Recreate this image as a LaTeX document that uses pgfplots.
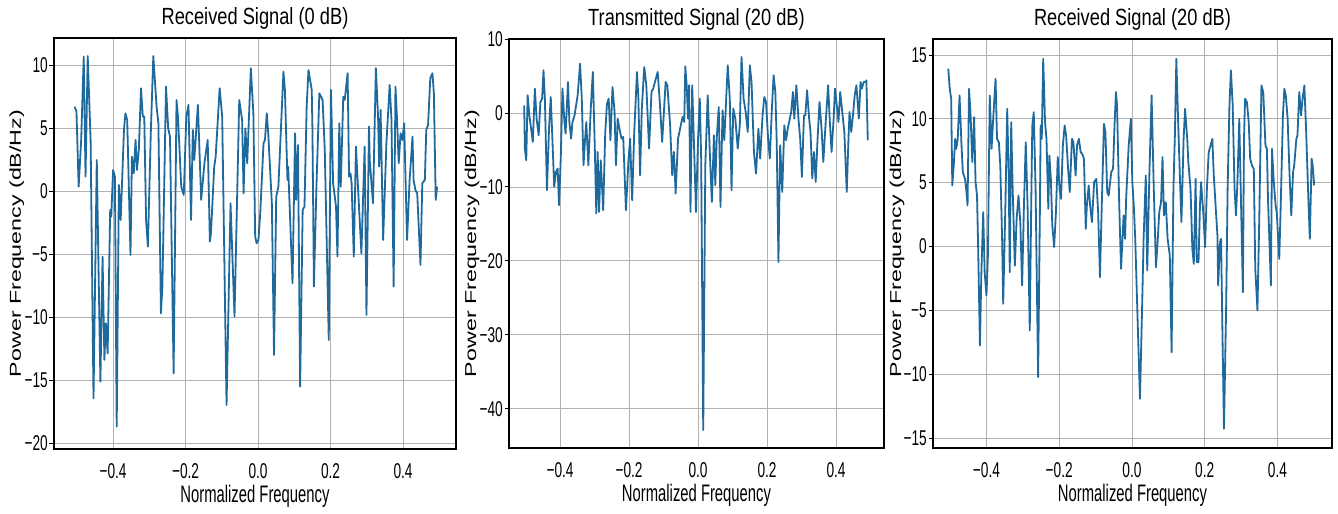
\documentclass[border=0pt]{standalone}
\usepackage{fontspec}
\usepackage{graphicx}
\usepackage{pgfplots}
\pgfplotsset{compat=1.18}
\setmainfont{Liberation Sans}
\newfontfamily\condA{Liberation Sans}[FakeStretch=0.64]
\newfontfamily\condL{Liberation Sans}[FakeStretch=0.62]
\newfontfamily\condT{Liberation Sans}[FakeStretch=0.78]
\definecolor{sig}{RGB}{31,106,156}
\definecolor{gridc}{RGB}{178,178,178}
\newcommand{\tickfont}{\condA\fontsize{21.5}{25}\selectfont}
\newcommand{\labfont}{\condL\fontsize{24}{28}\selectfont}
\newcommand{\titfont}{\condT\fontsize{23.5}{28}\selectfont}
\newcommand{\ylabfont}{\fontsize{23.3}{28}\selectfont}
\pgfplotsset{panel/.style={
  scale only axis, anchor=south west,
  axis line style={black, line width=1.1bp},
  grid=major, major grid style={color=gridc, line width=0.8bp},
  major tick length=4.5bp, tick align=outside,
  ytick pos=left, xtick pos=bottom,
  xtick style={draw=none}, ytick style={black, line width=0.9bp},
  xtick={-0.4,-0.2,0,0.2,0.4},
  xticklabels={−0.4,−0.2,0.0,0.2,0.4},
  xticklabel style={font=\tickfont, inner sep=0pt, anchor=north, yshift=-9.5bp},
  yticklabel style={font=\tickfont, inner sep=0pt, anchor=east, xshift=-1.5bp},
  xlabel={Normalized Frequency},
  xlabel style={font=\labfont, at={(axis description cs:0.5,0)}, anchor=north, yshift=-36bp, inner sep=0pt},
  ylabel={\scalebox{1}[0.68]{Power Frequency (dB/Hz)}},
  ylabel style={font=\ylabfont, anchor=base, inner sep=0pt},
  title style={font=\titfont, at={(axis description cs:0.5,1)}, anchor=base, yshift=7.5bp, inner sep=0pt},
}}
\begin{document}
\begin{tikzpicture}
\path[use as bounding box] (0,0) rectangle (1338bp,514bp);
% Panel 1
\begin{axis}[panel, at={(54bp,65bp)}, width=402bp, height=411bp,
  xmin=-0.563, xmax=0.546, ymin=-20.48, ymax=12.14,
  ytick={-20,-15,-10,-5,0,5,10}, yticklabels={−20,−15,−10,−5,0,5,10},
  ylabel style={at={(axis description cs:-0.0821,0.5)}},
  title={Received Signal (0 dB)}]
\addplot[color=sig, line width=1.8bp, line join=round, no markers] coordinates {(-0.506,6.69)(-0.501,6.30)(-0.495,0.34)(-0.488,4.05)(-0.481,10.66)(-0.476,1.14)(-0.470,10.71)(-0.462,4.05)(-0.454,-16.46)(-0.445,2.46)(-0.435,-15.13)(-0.429,-5.21)(-0.424,-13.41)(-0.420,-10.50)(-0.415,-12.88)(-0.408,-1.51)(-0.405,-2.04)(-0.400,1.67)(-0.395,1.14)(-0.390,-18.70)(-0.384,0.48)(-0.379,-2.30)(-0.370,4.84)(-0.366,6.16)(-0.361,5.63)(-0.352,-5.08)(-0.348,2.72)(-0.343,1.40)(-0.338,4.05)(-0.334,1.67)(-0.329,3.25)(-0.323,8.15)(-0.318,5.90)(-0.314,5.90)(-0.309,-2.30)(-0.304,-4.42)(-0.296,4.58)(-0.289,10.71)(-0.280,6.69)(-0.275,5.37)(-0.268,-9.71)(-0.264,-7.59)(-0.254,8.28)(-0.248,4.97)(-0.243,4.31)(-0.233,-14.47)(-0.225,7.22)(-0.221,5.90)(-0.212,0.34)(-0.205,-0.32)(-0.198,5.90)(-0.192,6.83)(-0.185,-2.30)(-0.180,4.84)(-0.176,2.46)(-0.166,6.83)(-0.157,-0.71)(-0.148,2.20)(-0.139,4.05)(-0.133,-4.02)(-0.130,-3.36)(-0.121,1.93)(-0.117,2.72)(-0.106,8.15)(-0.099,5.90)(-0.087,-16.98)(-0.076,-0.98)(-0.065,-9.97)(-0.052,7.22)(-0.044,5.63)(-0.040,-0.19)(-0.035,4.97)(-0.030,2.20)(-0.020,9.74)(-0.013,6.16)(-0.008,-3.62)(-0.004,-4.15)(0.001,-3.89)(0.006,-1.77)(0.015,3.78)(0.019,4.05)(0.024,6.16)(0.028,4.58)(0.038,-0.98)(0.044,-13.02)(0.050,-0.45)(0.056,0.34)(0.070,9.47)(0.074,8.02)(0.081,0.87)(0.083,1.93)(0.095,-7.33)(0.102,4.58)(0.105,-0.71)(0.110,3.65)(0.116,-15.53)(0.123,-1.51)(0.128,-1.24)(0.134,6.69)(0.139,9.60)(0.148,8.02)(0.150,4.84)(0.154,-7.59)(0.161,0.34)(0.169,7.75)(0.178,7.22)(0.184,3.25)(0.195,-11.83)(0.201,8.02)(0.207,0.61)(0.215,-1.24)(0.219,-5.21)(0.224,5.37)(0.228,0.34)(0.235,7.49)(0.239,7.22)(0.247,9.34)(0.251,1.14)(0.255,1.40)(0.258,0.61)(0.264,-5.21)(0.270,3.52)(0.276,0.08)(0.285,-4.95)(0.294,3.52)(0.299,-9.84)(0.306,5.11)(0.308,2.46)(0.317,-0.98)(0.325,9.74)(0.331,5.90)(0.334,1.93)(0.338,6.43)(0.345,-3.89)(0.354,3.78)(0.363,8.41)(0.368,5.63)(0.374,-7.59)(0.379,8.28)(0.383,5.90)(0.388,2.20)(0.393,4.58)(0.398,4.05)(0.403,5.37)(0.411,-3.89)(0.418,0.87)(0.426,4.31)(0.429,0.87)(0.434,0.08)(0.439,-0.19)(0.448,-5.87)(0.453,0.61)(0.460,0.87)(0.464,4.84)(0.469,5.24)(0.475,8.94)(0.481,9.34)(0.485,7.75)(0.490,-0.71)(0.494,0.34)};
\end{axis}
% Panel 2
\begin{axis}[panel, at={(509bp,66bp)}, width=375bp, height=409bp,
  xmin=-0.548, xmax=0.539, ymin=-45.3, ymax=10,
  ytick={-40,-30,-20,-10,0,10}, yticklabels={−40,−30,−20,−10,0,10},
  ylabel style={at={(axis description cs:-0.088,0.5)}},
  title={Transmitted Signal (20 dB)}]
\addplot[color=sig, line width=1.8bp, line join=round, no markers] coordinates {(-0.504,1.04)(-0.502,-4.82)(-0.498,-6.40)(-0.494,2.39)(-0.489,-0.32)(-0.484,-2.12)(-0.479,-3.92)(-0.473,3.29)(-0.468,-0.77)(-0.462,-3.02)(-0.457,1.49)(-0.452,1.94)(-0.448,5.77)(-0.444,1.94)(-0.438,-10.45)(-0.432,-2.12)(-0.427,2.16)(-0.423,-2.57)(-0.417,-10.00)(-0.412,-7.97)(-0.407,-7.52)(-0.403,-12.48)(-0.398,-6.17)(-0.393,3.29)(-0.388,-0.77)(-0.384,-2.79)(-0.377,4.19)(-0.373,-1.22)(-0.368,-3.47)(-0.364,-1.22)(-0.358,-0.32)(-0.349,2.39)(-0.342,6.67)(-0.337,1.94)(-0.332,-7.07)(-0.328,-3.92)(-0.324,-1.22)(-0.318,-7.07)(-0.311,0.59)(-0.305,5.54)(-0.299,-5.27)(-0.295,-13.60)(-0.291,-5.27)(-0.287,-13.38)(-0.282,-6.40)(-0.275,-13.15)(-0.269,-2.57)(-0.264,1.26)(-0.259,1.94)(-0.254,-3.69)(-0.248,3.51)(-0.242,0.14)(-0.238,-7.07)(-0.233,-0.77)(-0.228,-2.12)(-0.222,-3.47)(-0.217,-3.24)(-0.209,-13.15)(-0.202,-6.62)(-0.197,-3.47)(-0.191,-11.80)(-0.185,-2.57)(-0.177,5.54)(-0.173,1.94)(-0.168,-8.42)(-0.163,0.59)(-0.156,6.22)(-0.150,3.74)(-0.142,-4.82)(-0.135,2.84)(-0.130,3.29)(-0.125,4.19)(-0.117,5.54)(-0.111,1.49)(-0.104,-3.92)(-0.099,0.14)(-0.094,4.19)(-0.089,3.74)(-0.081,-1.67)(-0.075,-8.42)(-0.070,-5.27)(-0.065,-10.90)(-0.058,-3.47)(-0.050,-1.67)(-0.045,-0.54)(-0.040,-1.22)(-0.037,6.31)(-0.033,3.74)(-0.029,-0.77)(-0.026,3.74)(-0.022,-13.38)(-0.017,3.74)(-0.012,-3.92)(-0.006,-13.38)(0.000,-3.47)(0.005,1.94)(0.009,-6.17)(0.015,-42.88)(0.021,-7.07)(0.028,2.39)(0.034,-5.27)(0.040,-12.03)(0.046,-3.02)(0.050,-9.77)(0.054,-3.47)(0.060,0.81)(0.065,-12.70)(0.071,0.36)(0.076,-3.69)(0.086,6.44)(0.092,1.94)(0.097,-10.45)(0.102,0.59)(0.108,-0.77)(0.115,-4.82)(0.121,-1.67)(0.126,7.57)(0.132,1.94)(0.138,0.14)(0.144,-2.57)(0.150,6.44)(0.155,4.19)(0.162,-5.27)(0.168,-8.20)(0.175,-2.12)(0.180,-6.17)(0.187,-0.32)(0.192,2.16)(0.197,1.49)(0.203,-3.47)(0.208,-6.17)(0.214,0.59)(0.219,5.09)(0.224,2.84)(0.228,-3.92)(0.233,-20.14)(0.238,-4.37)(0.244,-10.68)(0.250,-1.67)(0.255,-3.69)(0.260,-2.12)(0.265,-0.99)(0.270,0.14)(0.275,2.84)(0.279,-0.77)(0.285,3.74)(0.291,-0.77)(0.296,-3.47)(0.301,-8.65)(0.307,-0.32)(0.311,-0.32)(0.316,3.06)(0.322,-0.77)(0.326,-2.57)(0.331,-8.87)(0.336,-5.27)(0.341,-9.32)(0.346,-3.92)(0.352,1.49)(0.358,-2.12)(0.363,-6.62)(0.370,-1.22)(0.377,3.74)(0.382,-1.22)(0.387,-5.27)(0.393,-0.77)(0.397,3.29)(0.402,1.04)(0.407,-1.22)(0.412,2.84)(0.419,-0.32)(0.424,-2.57)(0.431,-10.68)(0.436,-3.47)(0.439,0.14)(0.444,-2.57)(0.449,-0.32)(0.454,2.39)(0.459,3.74)(0.466,-0.77)(0.471,4.19)(0.475,3.29)(0.480,4.19)(0.485,4.19)(0.488,4.41)(0.492,-3.69)};
\end{axis}
% Panel 3
\begin{axis}[panel, at={(933bp,66bp)}, width=399bp, height=409bp,
  xmin=-0.547, xmax=0.55, ymin=-15.78, ymax=16.25,
  ytick={-15,-10,-5,0,5,10,15}, yticklabels={−15,−10,−5,0,5,10,15},
  ylabel style={at={(axis description cs:-0.080,0.5)}},
  title={Received Signal (20 dB)}]
\addplot[color=sig, line width=1.8bp, line join=round, no markers] coordinates {(-0.505,13.92)(-0.501,12.35)(-0.497,11.57)(-0.494,4.78)(-0.490,6.34)(-0.486,8.43)(-0.483,7.65)(-0.479,8.43)(-0.474,11.83)(-0.469,8.17)(-0.465,5.82)(-0.459,5.30)(-0.455,4.26)(-0.452,3.21)(-0.448,12.35)(-0.444,10.52)(-0.439,6.61)(-0.434,10.13)(-0.430,5.04)(-0.426,3.99)(-0.423,0.08)(-0.418,-7.75)(-0.414,-2.01)(-0.409,2.69)(-0.405,-2.01)(-0.400,-3.84)(-0.396,-0.70)(-0.391,11.83)(-0.386,7.65)(-0.381,10.26)(-0.375,13.13)(-0.371,8.43)(-0.366,8.17)(-0.362,6.34)(-0.357,0.60)(-0.354,-4.49)(-0.348,3.21)(-0.343,10.78)(-0.339,5.82)(-0.336,-2.01)(-0.332,9.74)(-0.328,4.52)(-0.322,-1.49)(-0.317,2.17)(-0.312,3.99)(-0.307,1.91)(-0.302,-3.05)(-0.297,3.21)(-0.292,8.17)(-0.287,3.21)(-0.281,-6.58)(-0.277,3.21)(-0.274,9.48)(-0.270,10.52)(-0.265,4.52)(-0.258,-10.23)(-0.253,3.21)(-0.251,9.48)(-0.248,8.43)(-0.244,14.70)(-0.239,9.74)(-0.235,8.43)(-0.230,2.95)(-0.227,7.13)(-0.223,5.30)(-0.219,1.64)(-0.214,-0.05)(-0.209,2.69)(-0.204,7.00)(-0.199,4.52)(-0.195,3.73)(-0.190,7.91)(-0.185,9.48)(-0.181,8.69)(-0.175,5.82)(-0.171,4.26)(-0.165,8.43)(-0.161,8.17)(-0.155,5.56)(-0.151,7.91)(-0.146,8.43)(-0.141,7.39)(-0.137,7.26)(-0.132,6.87)(-0.127,1.38)(-0.124,3.21)(-0.119,4.78)(-0.115,3.21)(-0.110,1.91)(-0.104,5.04)(-0.098,5.30)(-0.093,2.69)(-0.088,-2.40)(-0.083,3.21)(-0.077,9.61)(-0.073,8.96)(-0.068,4.26)(-0.064,3.99)(-0.057,5.82)(-0.052,6.08)(-0.048,9.48)(-0.044,12.09)(-0.041,11.04)(-0.035,3.21)(-0.030,-1.75)(-0.023,2.43)(-0.019,0.60)(-0.016,3.73)(-0.009,7.91)(-0.003,10.00)(0.001,5.04)(0.005,3.21)(0.009,0.60)(0.016,-6.19)(0.022,-11.93)(0.028,-4.62)(0.032,0.60)(0.038,5.56)(0.042,-1.88)(0.048,5.82)(0.054,11.83)(0.060,4.52)(0.066,-1.62)(0.071,0.60)(0.075,2.69)(0.080,3.47)(0.084,7.00)(0.088,2.43)(0.093,3.47)(0.098,0.60)(0.104,-0.70)(0.109,-8.28)(0.114,4.52)(0.118,8.69)(0.122,14.70)(0.127,9.74)(0.132,5.30)(0.136,1.91)(0.142,8.43)(0.146,10.78)(0.152,8.43)(0.155,6.61)(0.161,4.52)(0.166,-0.18)(0.170,-1.36)(0.175,5.30)(0.178,-1.23)(0.183,-1.23)(0.187,3.21)(0.190,5.04)(0.196,2.69)(0.201,-0.05)(0.206,4.52)(0.211,7.39)(0.216,7.91)(0.221,8.43)(0.225,5.56)(0.231,2.69)(0.235,0.86)(0.237,-3.05)(0.242,0.34)(0.245,0.60)(0.249,-7.23)(0.253,-14.28)(0.259,-4.62)(0.263,4.52)(0.268,11.04)(0.272,13.79)(0.277,11.04)(0.282,4.52)(0.286,2.43)(0.290,5.04)(0.295,10.00)(0.300,3.21)(0.305,-3.58)(0.308,8.43)(0.311,11.57)(0.316,11.31)(0.321,9.74)(0.325,6.87)(0.330,6.34)(0.335,6.08)(0.339,-1.75)(0.345,-5.01)(0.350,2.17)(0.356,12.61)(0.361,12.09)(0.367,7.91)(0.371,7.65)(0.374,3.73)(0.382,-3.05)(0.385,7.65)(0.390,5.04)(0.395,3.21)(0.398,2.69)(0.405,-0.97)(0.409,3.21)(0.415,10.26)(0.419,12.35)(0.423,11.83)(0.428,10.00)(0.433,5.82)(0.438,2.43)(0.443,5.82)(0.446,6.34)(0.452,8.43)(0.455,8.69)(0.460,12.09)(0.465,10.26)(0.469,11.57)(0.474,12.61)(0.479,8.96)(0.485,3.73)(0.489,0.60)(0.494,6.87)(0.497,6.34)(0.501,4.78)};
\end{axis}
\end{tikzpicture}
\end{document}
